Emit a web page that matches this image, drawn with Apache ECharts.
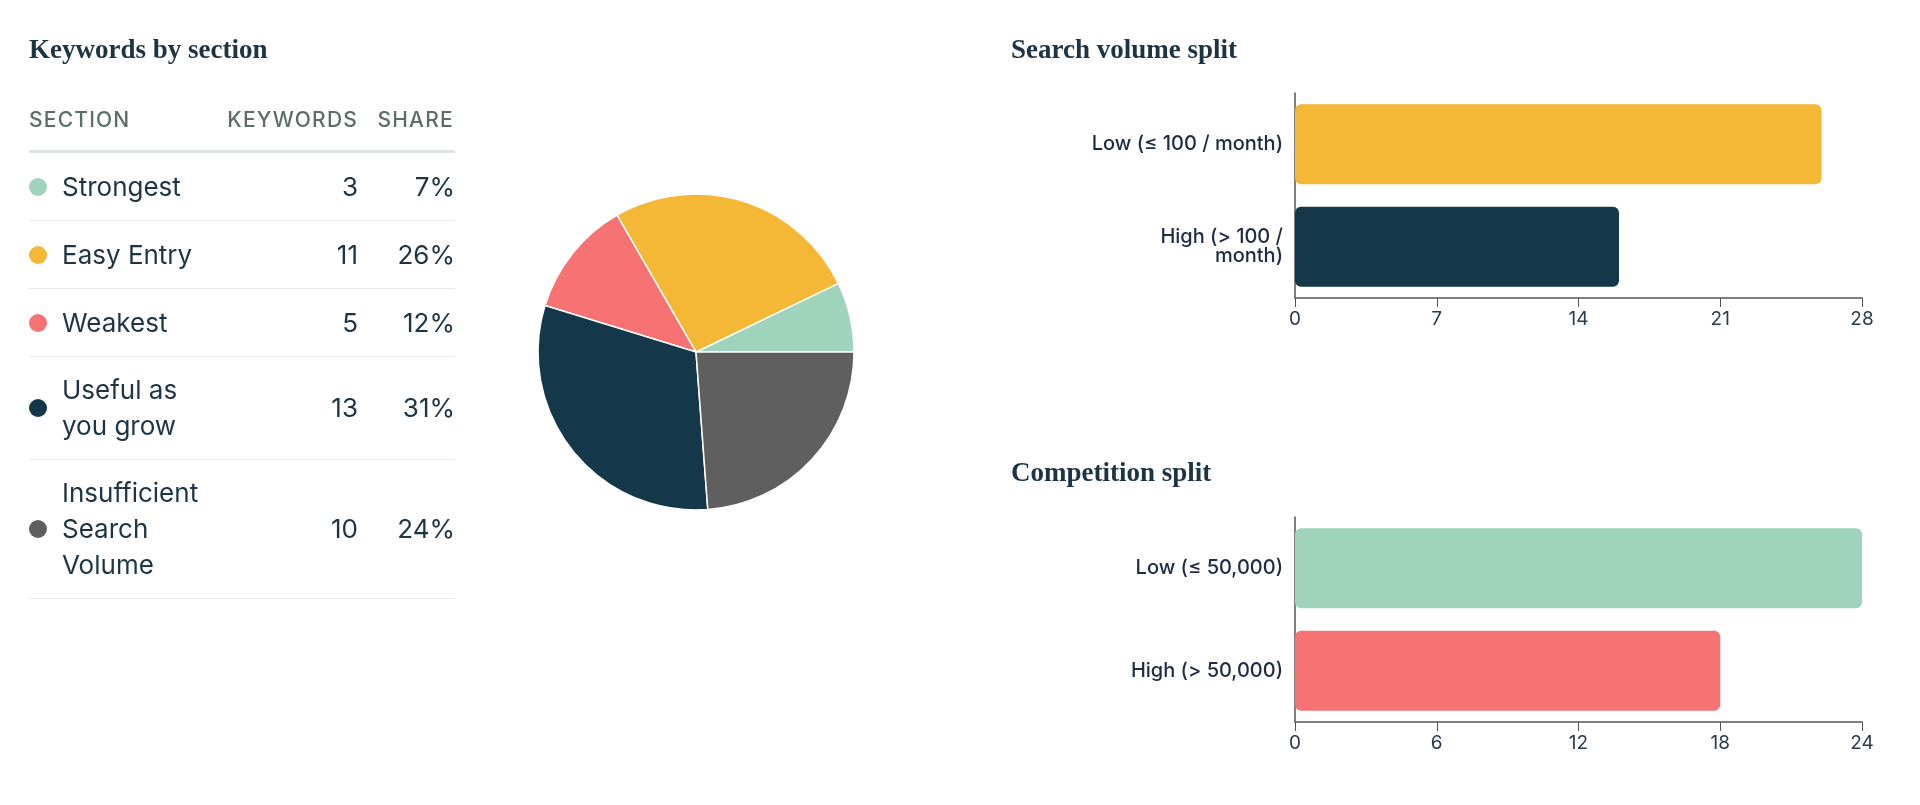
<!DOCTYPE html>
<html>
<head>
<meta charset="utf-8">
<title>Keywords overview</title>
<script src="https://cdn.jsdelivr.net/npm/echarts@6.0.0/dist/echarts.min.js"></script>
<style>
    html, body { margin: 0; padding: 0; background: #fff; }
    #chart { position: absolute; left: 0; top: 0; width: 1920px; height: 805px; }
    #table { position: absolute; left: 29px; top: 104px; width: 426px; font-family: Inter, "Noto Sans", sans-serif; color: #1d3444; }
    .head { display: flex; height: 32px; line-height: 32px; padding-bottom: 14px; border-bottom: 3px solid #dfe3e5;
        font-size: 21px; font-weight: 500; letter-spacing: 1.2px; color: #5b6e66; white-space: nowrap; }
    .row { display: flex; align-items: center; min-height: 37px; padding: 15px 0; border-bottom: 1px solid #e6e8ea;
        font-size: 26px; line-height: 36px; }
    .c1 { width: 196px; display: flex; align-items: center; flex: none; }
    .c2 { width: 133px; text-align: right; flex: none; }
    .c3 { width: 97px; text-align: right; flex: none; }
    .head .c2, .head .c3 { margin-right: -1.2px; }
    .dot { width: 18px; height: 18px; border-radius: 50%; margin-right: 15px; flex: none; }
    .name { width: 145px; }
</style>
</head>
<body>
<div id="chart"></div>
<div id="table"></div>
<script>
// 关键词分组数据
var sections = ['Strongest', 'Easy Entry', 'Weakest', 'Useful as you grow', 'Insufficient Search Volume'];
var sectionKeywords = [3, 11, 5, 13, 10];
var sectionShares = ['7%', '26%', '12%', '31%', '24%'];
var sectionColors = ['#9fd3bc', '#f5b736', '#f77272', '#143749', '#5f5f5f'];
var tableHeads = ['SECTION', 'KEYWORDS', 'SHARE'];

// 搜索量
var volumeCategories = ['Low (≤ 100 / month)', 'High (> 100 / month)'];
var volumeLabels = ['Low (≤ 100 / month)', 'High (> 100 /\nmonth)'];
var volumeValues = [26, 16];
var volumeColors = ['#f5b736', '#143749'];

// 竞争度
var competitionCategories = ['Low (≤ 50,000)', 'High (> 50,000)'];
var competitionValues = [24, 18];
var competitionColors = ['#9fd3bc', '#f77272'];

// 表格
var html = '<div class="head"><div class="c1">' + tableHeads[0] + '</div><div class="c2">' + tableHeads[1] +
    '</div><div class="c3">' + tableHeads[2] + '</div></div>';
for (var i = 0; i < sections.length; i++) {
    html += '<div class="row"><div class="c1"><span class="dot" style="background:' + sectionColors[i] + '"></span>' +
        '<span class="name">' + sections[i] + '</span></div>' +
        '<div class="c2">' + sectionKeywords[i] + '</div><div class="c3">' + sectionShares[i] + '</div></div>';
}
document.getElementById('table').innerHTML = html;

var chart = echarts.init(document.getElementById('chart'));

var titleStyle = { fontFamily: '"Liberation Serif", serif', fontWeight: 'bold', fontSize: 27, color: '#1d3444' };
var catLabel = { fontFamily: 'Inter, sans-serif', fontSize: 20, fontWeight: 500, color: '#1d2b45', lineHeight: 19, margin: 12 };
var valLabel = { fontFamily: 'Inter, sans-serif', fontSize: 19, color: '#2b3a4a', margin: 12 };
var axisLine = { show: true, lineStyle: { color: '#555', width: 1.5 } };

function barData(values, colors) {
    var out = [];
    for (var i = 0; i < values.length; i++) {
        out.push({ value: values[i], itemStyle: { color: colors[i] } });
    }
    return out;
}

var option = {
    animation: false,
    title: [
        { text: 'Keywords by section', left: 29, top: 38, padding: 0, textStyle: titleStyle },
        { text: 'Search volume split', left: 1011, top: 38, padding: 0, textStyle: titleStyle },
        { text: 'Competition split', left: 1011, top: 461, padding: 0, textStyle: titleStyle }
    ],
    grid: [
        { left: 1295, top: 93, width: 567, height: 205 },
        { left: 1295, top: 517, width: 567, height: 205 }
    ],
    xAxis: [
        { gridIndex: 0, type: 'value', min: 0, max: 28, interval: 7, splitLine: { show: false },
            axisLine: axisLine, axisTick: { show: true, length: 9, lineStyle: { color: '#555' } }, axisLabel: valLabel },
        { gridIndex: 1, type: 'value', min: 0, max: 24, interval: 6, splitLine: { show: false },
            axisLine: axisLine, axisTick: { show: true, length: 9, lineStyle: { color: '#555' } }, axisLabel: valLabel }
    ],
    yAxis: [
        { gridIndex: 0, type: 'category', inverse: true, data: volumeCategories,
            axisLine: axisLine, axisTick: { alignWithLabel: true, length: 8, lineStyle: { color: '#555' } },
            axisLabel: Object.assign({}, catLabel, { formatter: function (v, idx) { return volumeLabels[idx]; } }) },
        { gridIndex: 1, type: 'category', inverse: true, data: competitionCategories,
            axisLine: axisLine, axisTick: { alignWithLabel: true, length: 8, lineStyle: { color: '#555' } },
            axisLabel: catLabel }
    ],
    series: [
        {
            type: 'pie',
            center: [696, 352],
            radius: 158,
            startAngle: 0,
            clockwise: false,
            label: { show: false },
            labelLine: { show: false },
            emphasis: { disabled: true },
            itemStyle: { borderColor: '#fff', borderWidth: 1.5 },
            data: sections.map(function (name, i) {
                return { name: name, value: sectionKeywords[i], itemStyle: { color: sectionColors[i] } };
            })
        },
        {
            type: 'bar', xAxisIndex: 0, yAxisIndex: 0, barWidth: 80,
            itemStyle: { borderRadius: 6 },
            data: barData(volumeValues, volumeColors)
        },
        {
            type: 'bar', xAxisIndex: 1, yAxisIndex: 1, barWidth: 80,
            itemStyle: { borderRadius: 6 },
            data: barData(competitionValues, competitionColors)
        }
    ]
};
chart.setOption(option);

window.onresize = function () {
    chart.resize();
};
</script>
</body>
</html>
